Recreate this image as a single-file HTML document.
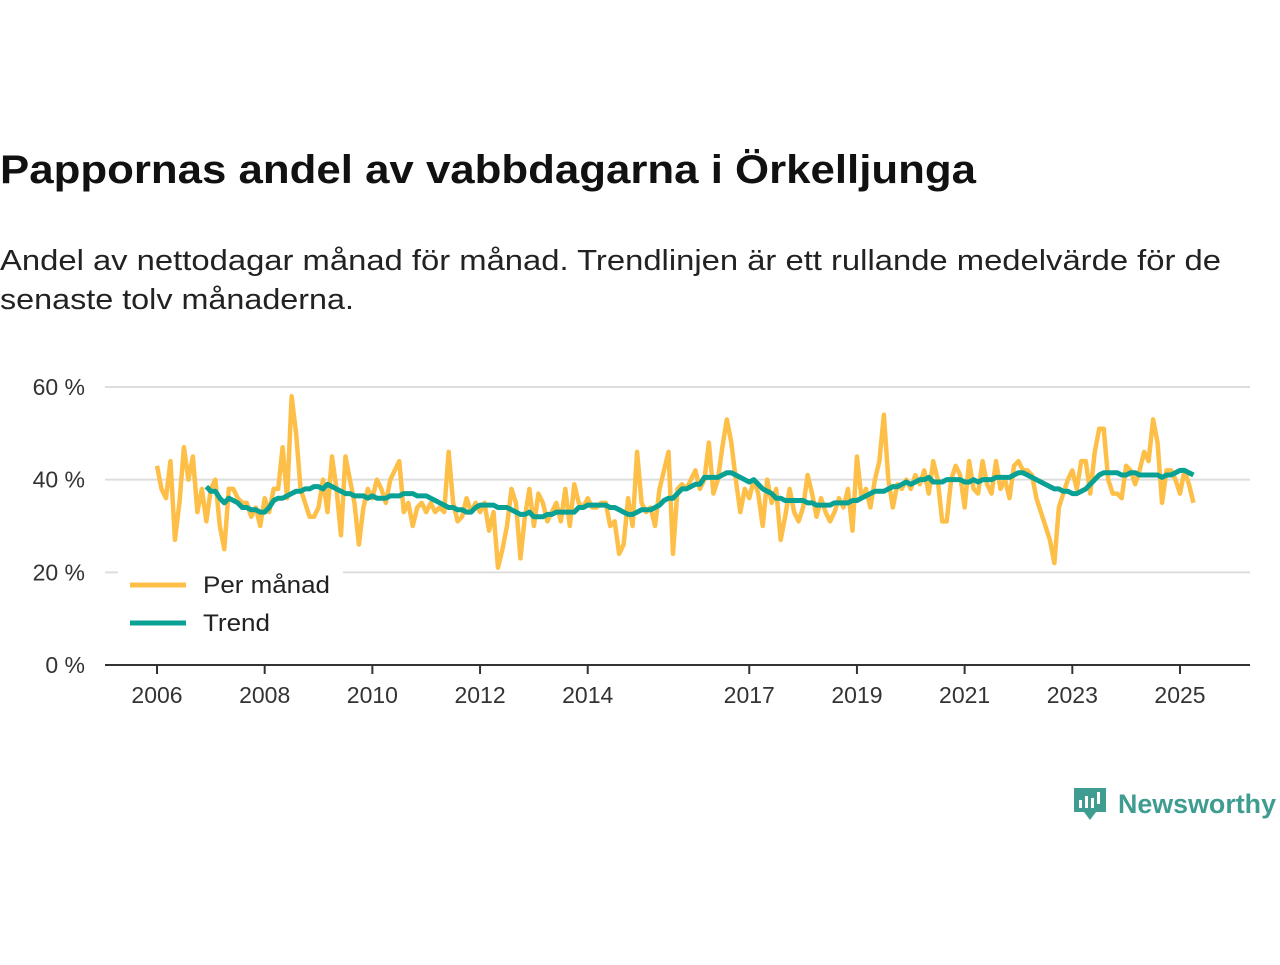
<!DOCTYPE html>
<html><head><meta charset="utf-8"><style>
body{margin:0;background:#fff;width:1280px;height:960px;overflow:hidden;font-family:"Liberation Sans","DejaVu Sans",sans-serif;}
</style></head><body>
<svg width="1280" height="960" xmlns="http://www.w3.org/2000/svg">
<text x="0" y="183" font-size="40" font-weight="bold" fill="#111" textLength="976" lengthAdjust="spacingAndGlyphs">Pappornas andel av vabbdagarna i Örkelljunga</text>
<text x="0" y="270" font-size="29" fill="#222" textLength="1221" lengthAdjust="spacingAndGlyphs">Andel av nettodagar månad för månad. Trendlinjen är ett rullande medelvärde för de</text>
<text x="0" y="309" font-size="29" fill="#222" textLength="354" lengthAdjust="spacingAndGlyphs">senaste tolv månaderna.</text>
<g id="grid"></g><g id="axes"></g><g id="series"></g>
<g>
<rect x="118" y="568" width="225" height="76" fill="#fff"/>
<line x1="130" y1="585" x2="186" y2="585" stroke="#fdbf48" stroke-width="5"/>
<text x="203" y="593" font-size="24" fill="#222" textLength="127" lengthAdjust="spacingAndGlyphs">Per månad</text>
<line x1="130" y1="623" x2="186" y2="623" stroke="#0aa195" stroke-width="5"/>
<text x="203" y="631" font-size="24" fill="#222" textLength="67" lengthAdjust="spacingAndGlyphs">Trend</text>
</g>
<g>
<path d="M1074 788h32v24h-10l-6 8-6-8h-10z" fill="#3f9c90"/>
<rect x="1079" y="800" width="3" height="8" fill="#fff"/><rect x="1085" y="796" width="3" height="12" fill="#fff"/><rect x="1091" y="798" width="3" height="10" fill="#fff"/><rect x="1097" y="792" width="3" height="12" fill="#fff"/>
<text x="1118" y="813" font-size="27" fill="#3f9c90" font-weight="bold" textLength="158" lengthAdjust="spacingAndGlyphs">Newsworthy</text>
</g>
</svg>
<script>
const yTicks=[0,20,40,60];
const xTickYears=[2006,2008,2010,2012,2014,2017,2019,2021,2023,2025];
const monthly=[43,38,36,44,27,35,47,40,45,33,38,31,
38,40,30,25,38,38,36,35,35,32,34,30,
36,33,38,38,47,36,58,50,38,35,32,32,
34,40,33,45,38,28,45,40,35,26,34,38,
36,40,38,35,40,42,44,33,35,30,34,35,
33,35,33,34,33,46,35,31,32,36,33,35,
33,35,29,33,21,25,30,38,35,23,32,38,
30,37,35,31,33,35,31,38,30,39,35,34,
36,34,34,35,35,30,31,24,26,36,30,46,
35,33,34,30,38,42,46,24,38,39,38,40,
42,38,40,48,37,40,47,53,48,40,33,38,
36,40,37,30,40,35,38,27,32,38,33,31,
34,41,37,32,36,33,31,33,36,34,38,29,
45,36,38,34,40,44,54,40,34,39,38,40,
38,41,39,42,37,44,40,31,31,40,43,41,
34,44,38,37,44,39,37,44,38,40,36,43,
44,42,42,41,36,33,30,27,22,34,37,40,
42,38,44,44,37,46,51,51,40,37,37,36,
43,42,39,42,46,44,53,48,35,42,42,40,
37,42,39,35];
const trendStart=11;
const trend=[38.5,37.5,37.5,36,35,36,35.5,35,34,34,33.5,33.5,33,
33,34,35.5,36,36,36.5,37,37.5,37.5,38,38,38.5,
38.5,38,39,38.5,38,37.5,37,37,36.5,36.5,36.5,36,
36.5,36,36,36,36.5,36.5,36.5,37,37,37,36.5,36.5,
36.5,36,35.5,35,34.5,34,34,33.5,33.5,33,33,34,
34.5,34.5,34.5,34.5,34,34,34,33.5,33,32.5,32.5,33,
32,32,32,32.5,32.5,33,33,33,33,33,34,34,
34.5,34.5,34.5,34.5,34.5,34,34,33.5,33,32.5,32.5,33,
33.5,33.5,33.5,34,34.5,35.5,36,36,37,38,38,38.5,
39,39,40.5,40.5,40.5,40.5,41,41.5,41.5,41,40.5,40,
39.5,40,39,38,37.5,37,36,36,35.5,35.5,35.5,35.5,
35.5,35,35,34.5,34.5,34.5,34.5,35,35,35,35,35.5,
35.5,36,36.5,37,37.5,37.5,37.5,38,38.5,38.5,39,39.5,
39,39.5,40,40,40.5,39.5,39.5,39.5,40,40,40,40,
39.5,39.5,40,39.5,40,40,40,40.5,40.5,40.5,40.5,41,
41.5,41.5,41,40.5,40,39.5,39,38.5,38,38,37.5,37.5,
37,37,37.5,38,39,40,41,41.5,41.5,41.5,41.5,41,
41,41.5,41.5,41,41,41,41,41,40.5,41,41,41.5,
42,42,41.5,41];
const NS='http://www.w3.org/2000/svg';
const yS=v=>665-v*(665-387)/60;
const xS=m=>157+m*(1180-157)/(19*12);
function mk(tag,attrs,parent){const e=document.createElementNS(NS,tag);for(const k in attrs)e.setAttribute(k,attrs[k]);document.getElementById(parent).appendChild(e);return e;}
yTicks.forEach(t=>{
  if(t>0){const l=mk('line',{x1:105,x2:1250,y1:yS(t),y2:yS(t),stroke:'#ddd','stroke-width':2},'grid');
  
  }
  const tx=mk('text',{x:85,y:yS(t)+8,'text-anchor':'end','font-size':23,fill:'#333'},'grid');
  tx.textContent=t+' %';
  
  
});
const ax=mk('line',{x1:105,x2:1250,y1:665,y2:665,stroke:'#333','stroke-width':2},'axes');


xTickYears.forEach(yr=>{
  const x=xS((yr-2006)*12);
  const tk=mk('line',{x1:x,x2:x,y1:665,y2:674,stroke:'#333','stroke-width':2},'axes');
  
  
  const tx=mk('text',{x:x,y:703,'text-anchor':'middle','font-size':23,fill:'#333'},'axes');
  tx.textContent=yr;
  
  
});
const p1=mk('polyline',{points:monthly.map((v,i)=>xS(i)+','+yS(v)).join(' '),fill:'none',stroke:'#fdbf48','stroke-width':4.5,'stroke-linejoin':'round'},'series');


const p2=mk('polyline',{points:trend.map((v,i)=>xS(i+trendStart)+','+yS(v)).join(' '),fill:'none',stroke:'#0aa195','stroke-width':5,'stroke-linejoin':'round'},'series');


</script>
</body></html>
